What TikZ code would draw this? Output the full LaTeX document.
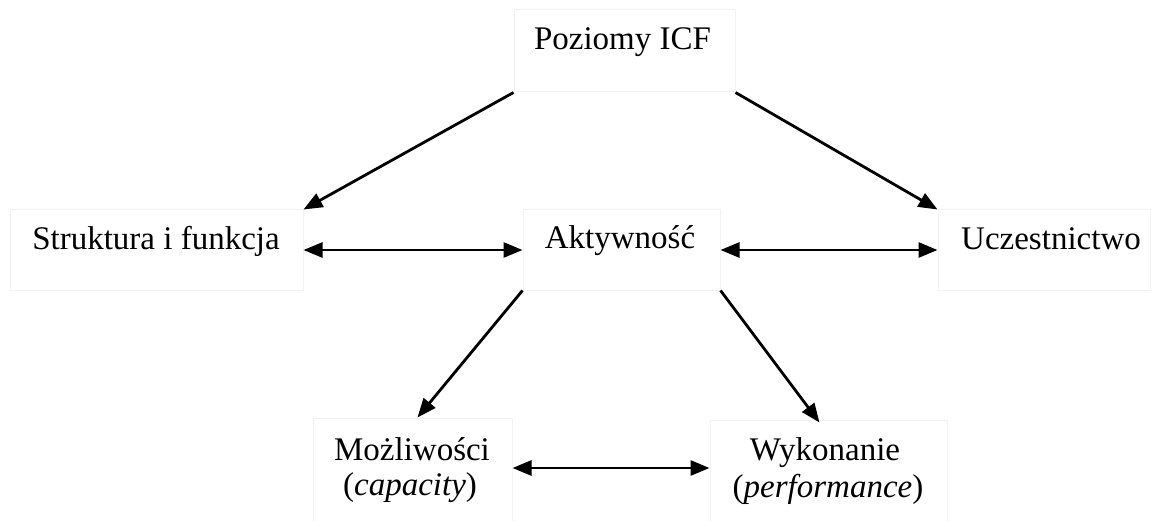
\documentclass[tikz,border=0pt]{standalone}
\usepackage{fontspec}
\setmainfont{Liberation Serif}
\usetikzlibrary{arrows.meta}
\begin{document}
\begin{tikzpicture}[x=1pt,y=-1pt,
  boxnode/.style={draw=black!5,line width=1pt,rectangle,inner sep=0pt,minimum width=#1},
  lbl/.style={anchor=base,inner sep=0pt,font=\fontsize{33}{37}\selectfont},
  conn/.style={line width=2.8pt,-{Triangle[length=19pt,width=15pt]}},
  dconn/.style={line width=2.8pt,{Triangle[length=19pt,width=15pt]}-{Triangle[length=19pt,width=15pt]}}
]
\useasboundingbox (0,0) rectangle (1158,521);
% boxes
\node[boxnode=221pt,minimum height=82pt] (p) at (624.5,51) {};
\node[boxnode=293pt,minimum height=80pt] (s) at (156.5,250) {};
\node[boxnode=197pt,minimum height=80pt] (a) at (621.5,250) {};
\node[boxnode=212pt,minimum height=80pt] (u) at (1044,250) {};
\node[boxnode=199pt,minimum height=104pt] (m) at (412.5,470) {};
\node[boxnode=237pt,minimum height=102pt] (w) at (828.5,471) {};
% texts
\node[lbl] (tp) at (622.5,50) {Poziomy ICF};
\node[lbl] (ts) at (156,250) {Struktura i funkcja};
\node[lbl] (ta) at (620,248) {Aktywność};
\node[lbl] (tu) at (1051,250) {Uczestnictwo};
\node[lbl] (tm1) at (412,460) {Możliwości};
\node[lbl] (tm2) at (410,495) {(\textit{capacity})};
\node[lbl] (tw1) at (825,460) {Wykonanie};
\node[lbl] (tw2) at (828,497) {(\textit{performance})};
% connectors
\draw[conn] (p.south west) -- (s.north east);
\draw[conn] (p.south east) -- (u.north west);
\draw[dconn] (s.east) -- (a.west);
\draw[dconn] (a.east) -- (u.west);
\draw[conn] (a.south west) -- ([xshift=5pt]m.north);
\draw[conn] (a.south east) -- ([xshift=-9pt,yshift=-3pt]w.north);
\draw[dconn] ([yshift=2pt]m.east) -- ([yshift=2pt]m.east -| w.west);
\end{tikzpicture}
\end{document}
